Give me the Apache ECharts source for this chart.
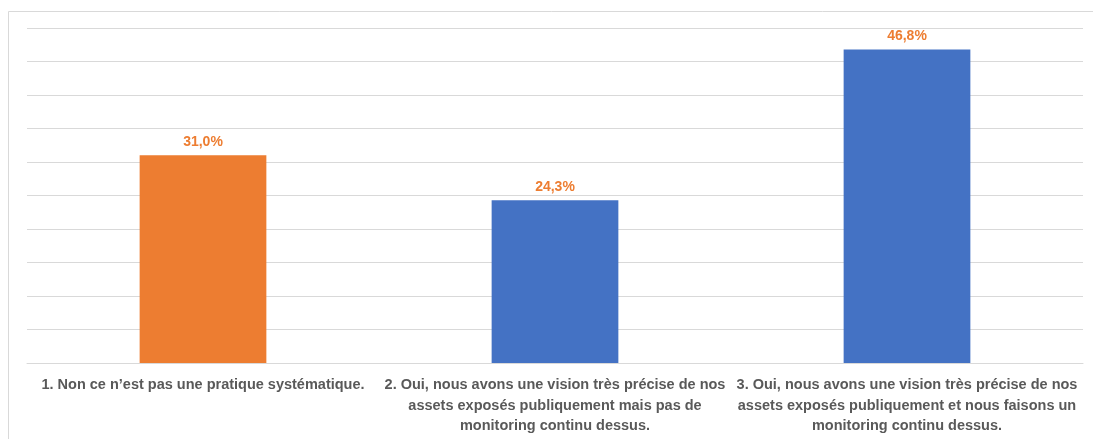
<!DOCTYPE html>
<html>
<head>
<meta charset="utf-8">
<script src="https://cdn.jsdelivr.net/npm/echarts@6/dist/echarts.min.js"></script>
<style>
  html, body { margin: 0; padding: 0; background: #ffffff; }
  #chart { width: 1093px; height: 439px; }
</style>
</head>
<body>
<div id="chart"></div>
<script>
// Survey answers and share of respondents (%)
const categories = [
  "1. Non ce n’est pas une pratique systématique.",
  "2. Oui, nous avons une vision très précise de nos\nassets exposés publiquement mais pas de\nmonitoring continu dessus.",
  "3. Oui, nous avons une vision très précise de nos\nassets exposés publiquement et nous faisons un\nmonitoring continu dessus."
];
const values = [31.0, 24.3, 46.8];

const ORANGE = "#ED7D31";
const BLUE = "#4472C4";
const FONT = "'Liberation Sans Narrow', 'Liberation Sans', sans-serif";

const chart = echarts.init(document.getElementById("chart"), null, { renderer: "canvas" });

chart.setOption({
  backgroundColor: "#ffffff",
  animation: false,
  graphic: [{
    type: "rect",
    shape: { x: 8.5, y: 11.5, width: 1100, height: 440 },
    style: { fill: "none", stroke: "#d9d9d9", lineWidth: 1 },
    silent: true
  }],
  grid: { left: 27, right: 10, top: 28, bottom: 76, containLabel: false },
  xAxis: {
    type: "category",
    data: categories,
    axisLine: { show: true, lineStyle: { color: "#d9d9d9", width: 1 } },
    axisTick: { show: false },
    axisLabel: {
      interval: 0,
      margin: 12,
      color: "#595959",
      fontFamily: FONT,
      fontWeight: "bold",
      fontSize: 14.5,
      lineHeight: 20.5,
      align: "center"
    }
  },
  yAxis: {
    type: "value",
    min: 0,
    max: 50,
    interval: 5,
    axisLine: { show: false },
    axisTick: { show: false },
    axisLabel: { show: false },
    splitLine: { show: true, lineStyle: { color: "#d9d9d9", width: 1 } }
  },
  series: [{
    type: "bar",
    barWidth: "36%",
    data: values.map((v, i) => ({
      value: v,
      itemStyle: { color: i === 0 ? ORANGE : BLUE }
    })),
    label: {
      show: true,
      position: "top",
      distance: 6,
      color: ORANGE,
      fontFamily: FONT,
      fontWeight: "bold",
      fontSize: 14,
      formatter: p => p.value.toFixed(1).replace(".", ",") + "%"
    }
  }]
});
</script>
</body>
</html>
